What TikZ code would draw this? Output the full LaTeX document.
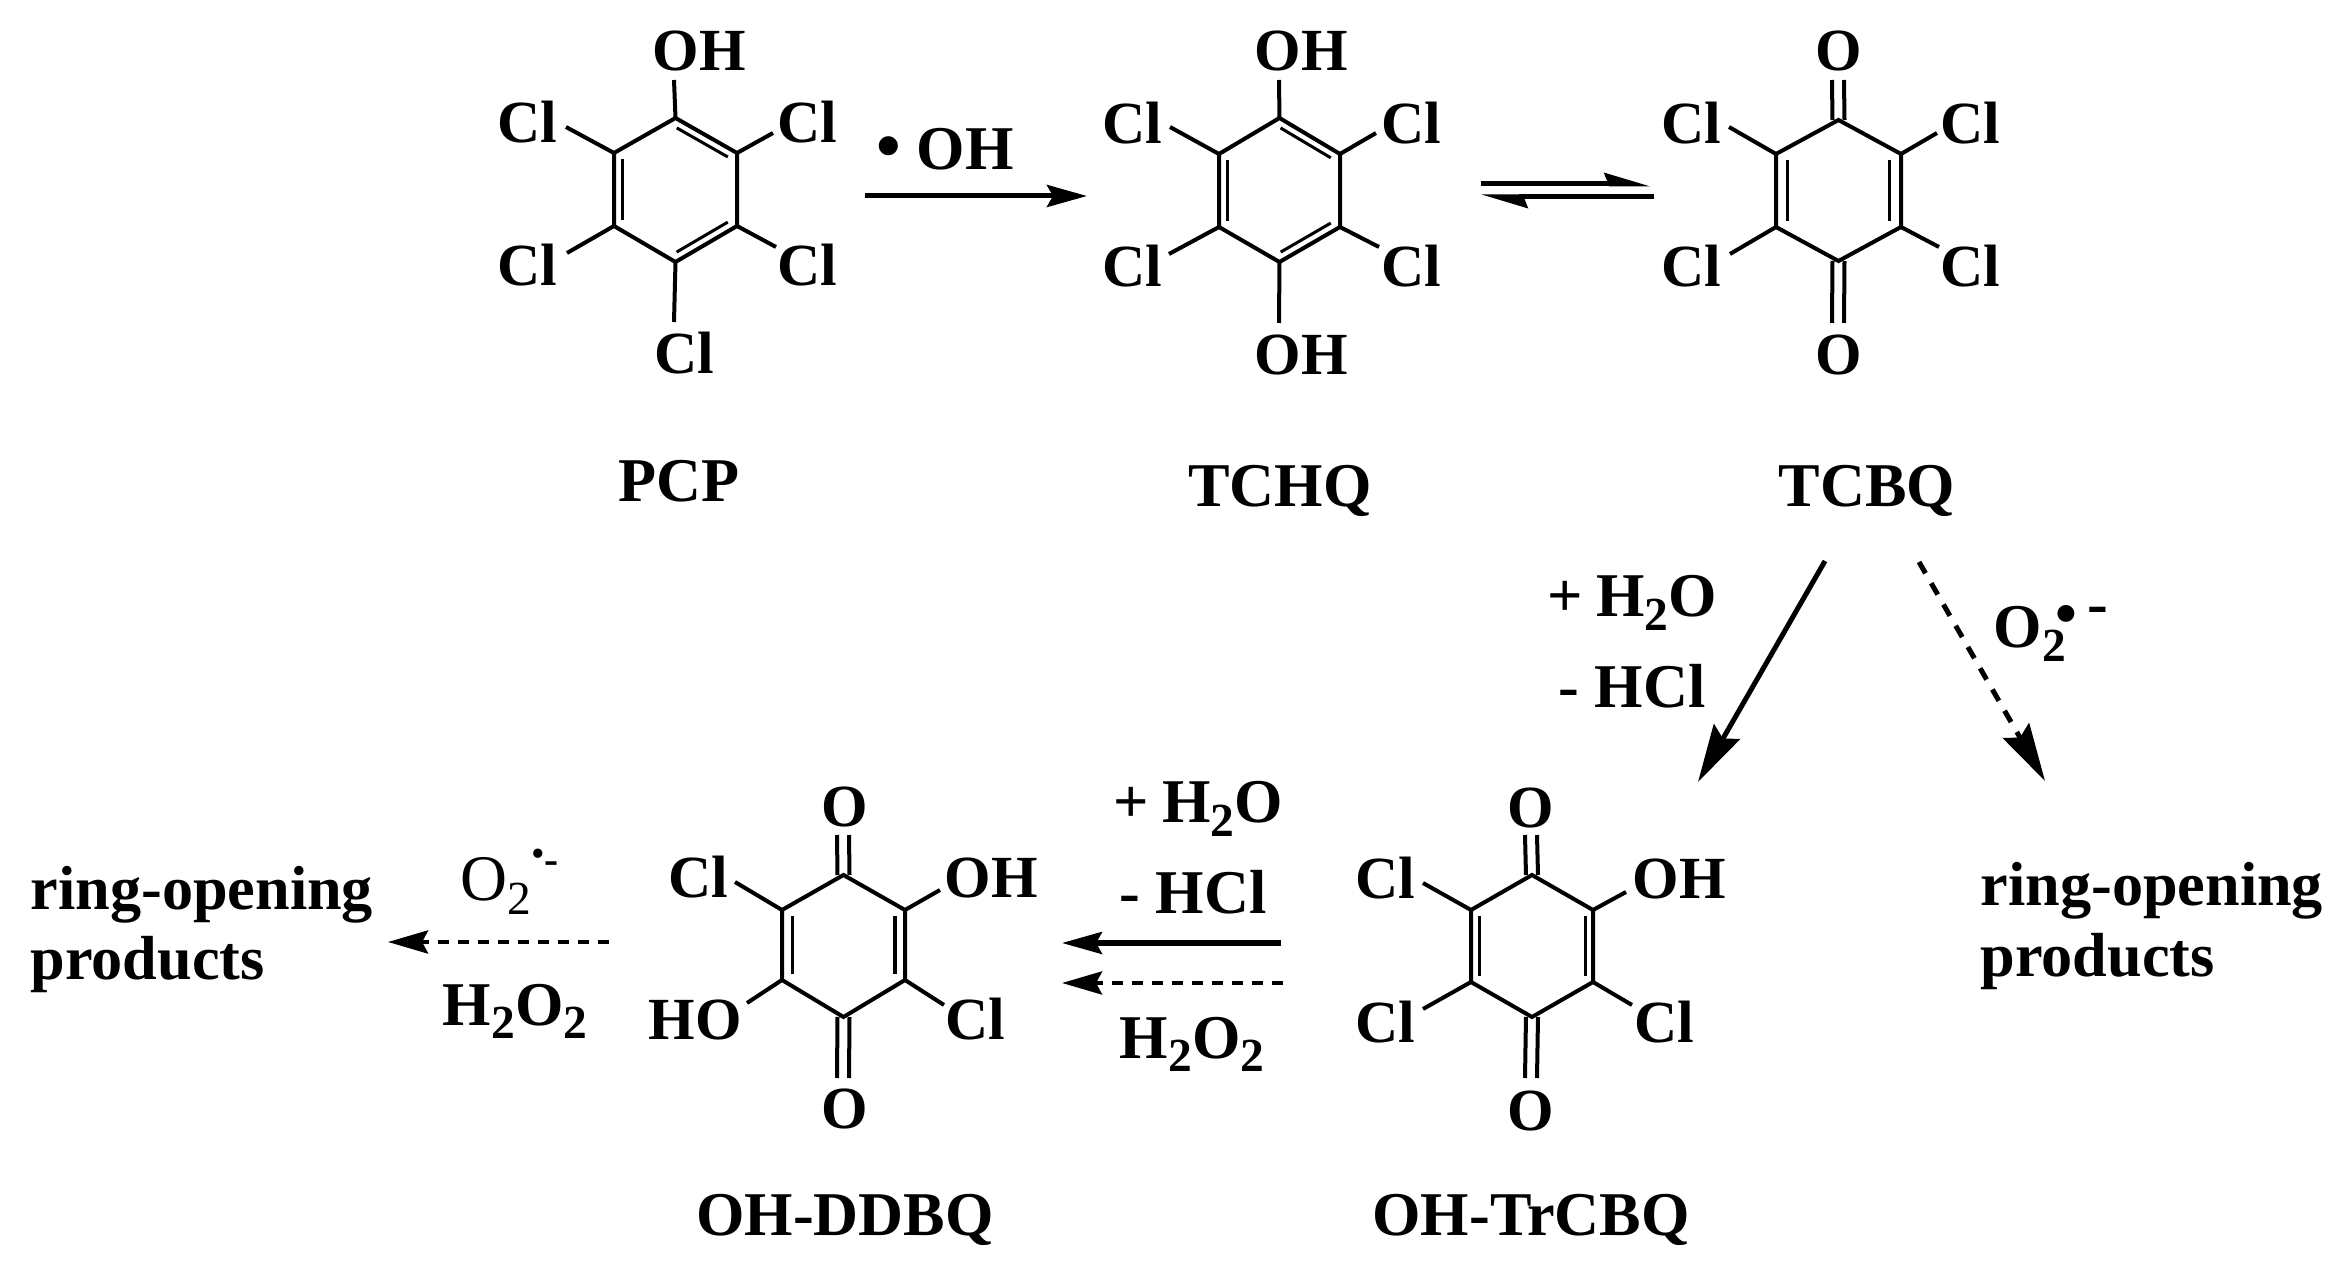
\documentclass[tikz,border=0pt]{standalone}
\usepackage{fontspec}
\setmainfont{Liberation Serif}
\usetikzlibrary{arrows.meta, calc}
\newcommand{\lowtwo}{\raisebox{-.22em}{\fontsize{13.5}{14}\selectfont 2}}
\newcommand{\hexring}[7]{
	\coordinate (#1a) at ({(#2+#3)/2},#4);
	\coordinate (#1b) at (#3,#5);
	\coordinate (#1c) at (#3,#6);
	\coordinate (#1d) at ({(#2+#3)/2},#7);
	\coordinate (#1e) at (#2,#6);
	\coordinate (#1f) at (#2,#5);
	\draw[bond] (#1a) -- (#1b) -- (#1c) -- (#1d) -- (#1e) -- (#1f) -- cycle;
}
\newcommand{\innerbond}[3][.08cm]{
	\draw[inner] ($(#2)!#1!-90:(#3)$) -- ($(#3)!#1!90:(#2)$);
}

\begin{document}
\begin{tikzpicture}[x=.01cm, y=-.01cm, every node/.style={inner sep=0pt, font=\fontsize{17}{20}\selectfont\bfseries}]
	\tikzstyle{bond}=[line width=.04cm, line join=miter]
	\tikzstyle{inner}=[line width=.03cm, shorten >=.06cm, shorten <=.06cm]
	\tikzstyle{chem}=[anchor=base]
	\tikzstyle{caption}=[anchor=base, font=\fontsize{17.7}{20}\selectfont\bfseries]
	\tikzstyle{solidarrow}=[line width=.05cm, -{Stealth[length=.4cm, width=.22cm, inset=.06cm]}]
	\tikzstyle{dasharrow}=[line width=.045cm, dash pattern=on .11cm off .09cm, -{Stealth[length=.4cm, width=.23cm, inset=.06cm]}]
	\tikzstyle{longarrow}=[line width=.05cm, -{Stealth[length=.58cm, width=.3cm, inset=.08cm]}]
	\tikzstyle{halfarrow}=[line width=.05cm, -{Stealth[harpoon, length=.38cm, width=.22cm, inset=.04cm]}]
	\useasboundingbox (0,0) rectangle (2344,1270);

	\hexring{P}{614}{737}{118}{153}{226}{262}
	\hexring{H}{1219}{1340}{118}{154}{227}{262}
	\hexring{Q}{1776}{1901}{120}{154}{227}{261}
	\hexring{D}{782}{905}{875}{910}{980}{1017}
	\hexring{T}{1471}{1593}{875}{910}{982}{1017}

	\innerbond{Pa}{Pb} \innerbond{Pc}{Pd} \innerbond{Pe}{Pf}
	\innerbond{Ha}{Hb} \innerbond{Hc}{Hd} \innerbond{He}{Hf}
	\innerbond[.115cm]{Qb}{Qc} \innerbond[.115cm]{Qe}{Qf}
	\innerbond[.1cm]{Db}{Dc} \innerbond[.1cm]{De}{Df}
	\innerbond{Tb}{Tc} \innerbond{Te}{Tf}

	\foreach \v/\x/\y in {Pa/674/80, Pb/773/133, Pc/776/247, Pd/674/322, Pe/567/253, Pf/566/127,
		Ha/1279/80, Hb/1376/133, Hc/1379/247, Hd/1279/323, He/1169/254, Hf/1170/127,
		Qb/1937/133, Qc/1939/247, Qe/1730/254, Qf/1729/127,
		Db/940/890, Dc/944/1005, De/747/1003, Df/735/882,
		Tb/1626/892, Tc/1632/1005, Te/1423/1009, Tf/1423/883}
	{
		\coordinate (\v E) at (\x,\y);
		\draw[bond] (\v) -- (\v E);
	}
	\foreach \v/\x/\y in {Qa/1838/80, Qd/1838/323, Da/843/835, Dd/843/1078, Ta/1531/835, Td/1531/1078}
	{
		\coordinate (\v E) at (\x,\y);
		\draw[bond] ([xshift=-.06cm]\v) -- ([xshift=-.06cm]\v E);
		\draw[bond] ([xshift=.06cm]\v) -- ([xshift=.06cm]\v E);
	}

	\node[chem] (PcpOH) at (699,71) {OH};
	\node[chem] (PcpClA) at (527,143) {Cl};
	\node[chem] (PcpClB) at (807,143) {Cl};
	\node[chem] (PcpClC) at (527,286) {Cl};
	\node[chem] (PcpClD) at (807,286) {Cl};
	\node[chem] (PcpClE) at (684,374) {Cl};
	\node[caption] (PCP) at (679,502) {PCP};

	\node[chem] (HqOHa) at (1301,71) {OH};
	\node[chem] (HqOHb) at (1301,375) {OH};
	\node[chem] (HqClA) at (1132,144) {Cl};
	\node[chem] (HqClB) at (1411,144) {Cl};
	\node[chem] (HqClC) at (1132,287) {Cl};
	\node[chem] (HqClD) at (1411,287) {Cl};
	\node[caption] (TCHQ) at (1280,507) {TCHQ};

	\node[chem] (BqOa) at (1839,71) {O};
	\node[chem] (BqOb) at (1839,375) {O};
	\node[chem] (BqClA) at (1691,144) {Cl};
	\node[chem] (BqClB) at (1970,144) {Cl};
	\node[chem] (BqClC) at (1691,287) {Cl};
	\node[chem] (BqClD) at (1970,287) {Cl};
	\node[caption] (TCBQ) at (1867,507) {TCBQ};

	\node[chem] (DdOa) at (845,827) {O};
	\node[chem] (DdOb) at (845,1128) {O};
	\node[chem] (DdClA) at (698,897) {Cl};
	\node[chem] (DdOH) at (991,897) {OH};
	\node[chem] (DdHO) at (695,1040) {HO};
	\node[chem] (DdClB) at (975,1040) {Cl};
	\node[caption] (DDBQ) at (845,1235) {OH-DDBQ};

	\node[chem] (TrOa) at (1531,828) {O};
	\node[chem] (TrOb) at (1531,1130) {O};
	\node[chem] (TrClA) at (1385,899) {Cl};
	\node[chem] (TrOH) at (1679,899) {OH};
	\node[chem] (TrClB) at (1385,1042) {Cl};
	\node[chem] (TrClC) at (1664,1042) {Cl};
	\node[caption] (TrCBQ) at (1531,1235) {OH-TrCBQ};

	\coordinate (AonS) at (865,196);
	\coordinate (AonT) at (1087,196);
	\draw[solidarrow] (AonS) -- (AonT);
	\node[caption] (Ahyd) at (945,170) {\fontsize{20}{20}\selectfont\textbullet\fontsize{17.7}{20}\selectfont\ OH};

	\coordinate (EqaS) at (1481,184);
	\coordinate (EqaT) at (1651,184);
	\coordinate (EqbS) at (1654,197);
	\coordinate (EqbT) at (1481,197);
	\draw[halfarrow] (EqaS) -- (EqaT);
	\draw[halfarrow] (EqbS) -- (EqbT);

	\coordinate (DnaS) at (1825,561);
	\coordinate (DnaT) at (1698,782);
	\coordinate (DnbS) at (1919,562);
	\coordinate (DnbT) at (2045,781);
	\draw[longarrow] (DnaS) -- (DnaT);
	\draw[longarrow, dash pattern=on .13cm off .115cm] (DnbS) -- (DnbT);
	\node[caption] (Dnwat) at (1632,617) {+\hspace{.22em}H\lowtwo O};
	\node[caption] (Dnhcl) at (1632,708) {- HCl};
	\node[caption, anchor=base west] (Dnrad) at (1993,648) {O\lowtwo\hspace{-.16em}\raisebox{.22em}{\textbullet}\hspace{.16em}\raisebox{.37em}{-}};
	\node[caption, anchor=base west, align=left] (RopR) at (1980,976) {ring-opening\\products};

	\coordinate (MdaS) at (1281,943);
	\coordinate (MdaT) at (1062,943);
	\coordinate (MdbS) at (1283,983);
	\coordinate (MdbT) at (1062,983);
	\draw[solidarrow] (MdaS) -- (MdaT);
	\draw[dasharrow] (MdbS) -- (MdbT);
	\node[caption] (Mdwat) at (1198,823) {+\hspace{.22em}H\lowtwo O};
	\node[caption] (Mdhcl) at (1193,913) {- HCl};
	\node[caption] (Mdper) at (1192,1058) {H\lowtwo O\lowtwo};

	\coordinate (LfS) at (609,942);
	\coordinate (LfT) at (388,942);
	\draw[dasharrow] (LfS) -- (LfT);
	\node[caption, anchor=base west] (Lfrad) at (460,900) {\normalfont\fontsize{18.5}{20}\selectfont O\lowtwo\raisebox{.52em}{\fontsize{11}{11}\selectfont\textbullet}\raisebox{.4em}{\fontsize{12}{12}\selectfont\bfseries -}};
	\node[caption] (Lfper) at (515,1025) {H\lowtwo O\lowtwo};
	\node[caption, anchor=base west, align=left] (RopL) at (30,980) {ring-opening\\products};
\end{tikzpicture}
\end{document}
